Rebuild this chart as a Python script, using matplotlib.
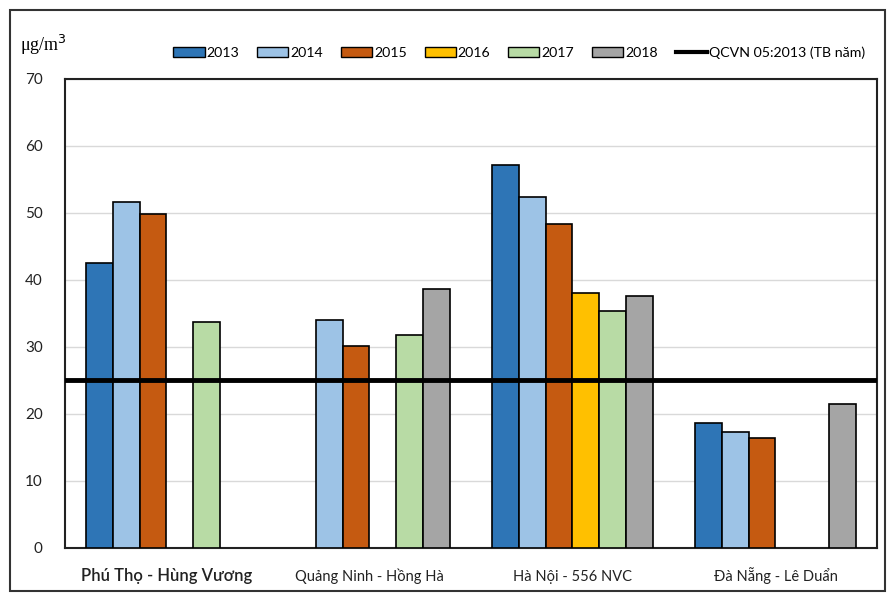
import numpy as np
import matplotlib.pyplot as plt
from matplotlib.patches import Rectangle
from matplotlib.lines import Line2D

# Stations and yearly mean values (ug/m3), NaN = no data
stations = ["Phú Thọ - Hùng Vương", "Quảng Ninh - Hồng Hà", "Hà Nội - 556 NVC", "Đà Nẵng - Lê Duẩn"]
years = ["2013", "2014", "2015", "2016", "2017", "2018"]
v2013 = [42.6, np.nan, 57.2, 18.7]
v2014 = [51.7, 34.1, 52.4, 17.3]
v2015 = [49.9, 30.1, 48.4, 16.4]
v2016 = [np.nan, np.nan, 38.0, np.nan]
v2017 = [33.7, 31.8, 35.3, np.nan]
v2018 = [np.nan, 38.7, 37.6, 21.5]
qcvn = 25
colors = ["#2E75B6", "#9DC3E6", "#C55A11", "#FFC000", "#B8DBA5", "#A5A5A5"]

series = [v2013, v2014, v2015, v2016, v2017, v2018]
narrow = ["Lato", "DejaVu Sans"]

fig = plt.figure(figsize=(8.89, 6.01), dpi=100)
ax = fig.add_axes([0.0731, 0.0882, 0.9134, 0.7804])

x = np.arange(len(stations))
w = 0.79 / len(years)
for i, vals in enumerate(series):
    ax.bar(x - 0.395 + w * (i + 0.5), vals, width=w, color=colors[i],
           edgecolor="black", linewidth=1.2, zorder=3)

ax.axhline(qcvn, color="black", linewidth=3.5, zorder=4)

ax.set_xlim(-0.5, len(stations) - 0.5)
ax.set_ylim(0, 70)
ax.set_yticks(range(0, 71, 10))
ax.grid(axis="y", color="#d9d9d9", linewidth=1, zorder=0)
ax.tick_params(length=0, labelsize=11, colors="#222222")
ax.tick_params(axis="y", pad=16)
ax.tick_params(axis="x", pad=24)
ax.set_xticks(x)
ax.set_xticklabels(stations, family=narrow, fontsize=10.5, va="baseline")
ax.get_xticklabels()[0].set_fontsize(12)
ax.get_xticklabels()[0].set_fontweight("semibold")
for lbl in ax.get_yticklabels():
    lbl.set_family(narrow)
for s in ax.spines.values():
    s.set_linewidth(1.5)
    s.set_color("#222222")

fig.text(0.022, 0.915, "μg/m$^3$", family="Liberation Serif", fontsize=13)

handles = [Rectangle((0, 0), 1, 1, facecolor=c, edgecolor="black", linewidth=1) for c in colors]
handles.append(Line2D([0], [0], color="black", linewidth=3))
labels = years + ["QCVN 05:2013 (TB năm)"]
fig.legend(handles, labels, loc="center", bbox_to_anchor=(0.584, 0.912), ncol=7,
           frameon=False, prop={"family": narrow, "size": 10.2}, handlelength=2.2,
           handletextpad=0.15, columnspacing=1.25)

# outer frame around the whole figure
fig.patches.append(Rectangle((0.011, 0.017), 0.985, 0.966, transform=fig.transFigure,
                             fill=False, edgecolor="#333333", linewidth=1.5))

fig.savefig("out.png", dpi=100)
